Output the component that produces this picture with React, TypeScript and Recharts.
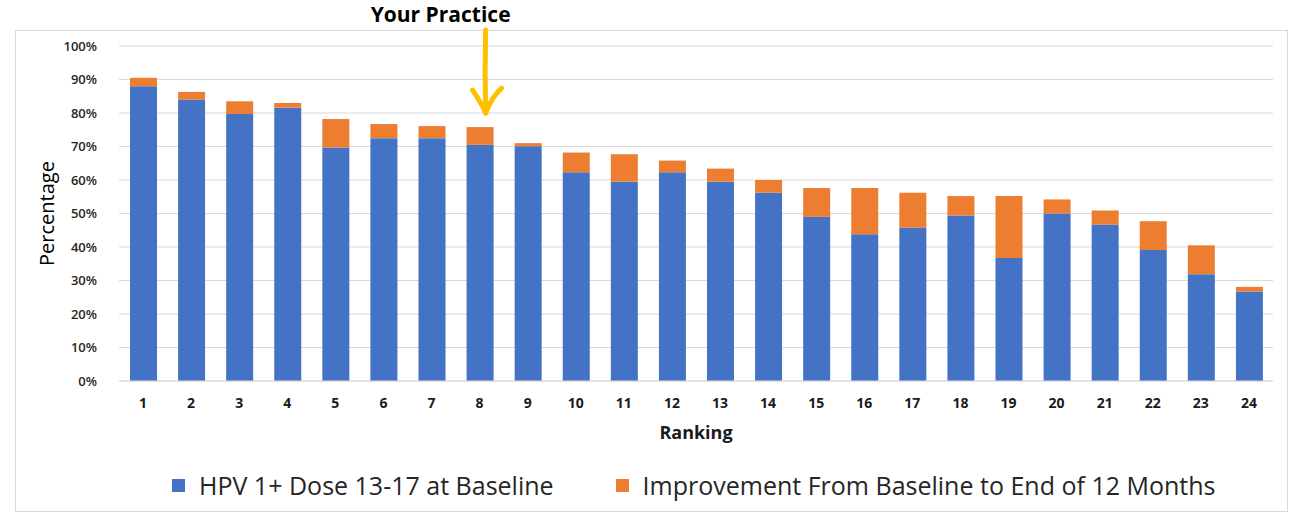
import React from "react";
import {
  BarChart,
  Bar,
  XAxis,
  YAxis,
  CartesianGrid,
  Legend,
  ReferenceDot,
} from "recharts";

// ---- data ----
const ranks: string[] = [
  "1", "2", "3", "4", "5", "6", "7", "8", "9", "10", "11", "12",
  "13", "14", "15", "16", "17", "18", "19", "20", "21", "22", "23", "24",
];
const baseline: number[] = [
  88, 84, 79.7, 81.6, 69.7, 72.5, 72.5, 70.5, 70.1, 62.3, 59.5, 62.3,
  59.5, 56.2, 49, 43.8, 45.8, 49.4, 36.7, 50, 46.7, 39.1, 31.9, 26.7,
];
const improvement: number[] = [
  2.5, 2.3, 3.8, 1.4, 8.5, 4.2, 3.6, 5.3, 0.9, 5.9, 8.2, 3.5,
  3.9, 3.8, 8.6, 13.8, 10.4, 5.8, 18.5, 4.2, 4.2, 8.6, 8.6, 1.4,
];
const yTicks: number[] = [0, 10, 20, 30, 40, 50, 60, 70, 80, 90, 100];

const seriesNames = {
  baseline: "HPV 1+ Dose 13-17 at Baseline",
  improvement: "Improvement From Baseline to End of 12 Months",
};
const annotationText = "Your Practice";
const practiceRank = "8";

const BLUE = "#4472C4";
const ORANGE = "#ED7D31";
const ARROW = "#FFC000";
const FONT = "'Open Sans', 'Noto Sans', sans-serif";

const data = ranks.map((r, i) => ({
  rank: r,
  baseline: baseline[i],
  improvement: improvement[i],
}));

const practiceIndex = ranks.indexOf(practiceRank);
const practiceTotal = baseline[practiceIndex] + improvement[practiceIndex];

const ArrowShape = (props: any) => {
  const { cx, cy } = props;
  if (cx == null || cy == null) return null;
  const sx = cx + 6;
  return (
    <g>
      <text
        x={cx - 39}
        y={cy - 105}
        textAnchor="middle"
        fontFamily={FONT}
        fontWeight={700}
        fontSize={21}
        fill="#000"
      >
        {annotationText}
      </text>
      <path
        d={`M ${sx} ${cy - 97} Q ${sx - 1} ${cy - 55} ${sx} ${cy - 14}`}
        stroke={ARROW}
        strokeWidth={5}
        fill="none"
        strokeLinecap="round"
      />
      <path
        d={`M ${cx - 7} ${cy - 37} Q ${sx - 3} ${cy - 22} ${sx} ${cy - 14} Q ${sx + 6} ${cy - 30} ${cx + 22} ${cy - 39}`}
        stroke={ARROW}
        strokeWidth={5}
        fill="none"
        strokeLinecap="round"
        strokeLinejoin="round"
      />
    </g>
  );
};

const renderLegend = (props: any) => {
  const payload = props.payload || [];
  return (
    <div style={{ display: "flex", alignItems: "center", paddingLeft: 172 }}>
      {payload.map((p: any, i: number) => (
        <div
          key={i}
          style={{
            display: "flex",
            alignItems: "center",
            marginRight: 62,
          }}
        >
          <span
            style={{
              display: "inline-block",
              width: 13,
              height: 13,
              background: p.color,
              marginRight: 14,
            }}
          />
          <span
            style={{
              fontFamily: FONT,
              fontSize: 25,
              lineHeight: "30px",
              color: "#262626",
              whiteSpace: "nowrap",
            }}
          >
            {p.value}
          </span>
        </div>
      ))}
    </div>
  );
};

export default function App() {
  return (
    <div
      style={{
        position: "absolute",
        left: 0,
        top: 0,
        width: 1293,
        height: 514,
        background: "#fff",
      }}
    >
      <div
        style={{
          position: "absolute",
          left: 15,
          top: 30,
          width: 1273,
          height: 482,
          border: "1px solid #d9d9d9",
          boxSizing: "border-box",
        }}
      />
      <div style={{ position: "absolute", left: 0, top: 0 }}>
        <BarChart
          width={1293}
          height={514}
          data={data}
          margin={{ top: 46, right: 20, bottom: 73, left: 0 }}
          barCategoryGap={0}
          style={{ overflow: "visible" }}
        >
          <CartesianGrid
            vertical={false}
            stroke="#d9d9d9"
            strokeWidth={1}
          />
          <XAxis
            dataKey="rank"
            height={60}
            tickLine={false}
            axisLine={{ stroke: "#d9d9d9" }}
            tickSize={0}
            tickMargin={17}
            interval={0}
            tick={{
              fontFamily: FONT,
              fontWeight: 700,
              fontSize: 14,
              fill: "#1a1a1a",
            }}
            label={{
              value: "Ranking",
              position: "insideBottom",
              offset: 2,
              style: {
                fontFamily: FONT,
                fontWeight: 700,
                fontSize: 18,
                fill: "#1a1a1a",
              },
            }}
          />
          <YAxis
            width={119}
            domain={[0, 100]}
            ticks={yTicks}
            tickFormatter={(v: number) => `${v}%`}
            tickLine={false}
            axisLine={false}
            tickSize={0}
            tickMargin={22}
            tick={{
              fontFamily: FONT,
              fontWeight: 600,
              fontSize: 13,
              fill: "#262626",
            }}
            label={{
              value: "Percentage",
              angle: -90,
              position: "insideLeft",
              offset: 47,
              style: {
                fontFamily: FONT,
                fontSize: 20,
                fill: "#000",
                textAnchor: "middle",
              },
            }}
          />
          <Legend
            layout="horizontal"
            verticalAlign="middle"
            align="center"
            content={renderLegend}
            wrapperStyle={{ top: 470, left: 0, width: 1293 }}
          />
          <Bar
            dataKey="baseline"
            name={seriesNames.baseline}
            stackId="a"
            fill={BLUE}
            barSize={27}
            isAnimationActive={false}
          />
          <Bar
            dataKey="improvement"
            name={seriesNames.improvement}
            stackId="a"
            fill={ORANGE}
            barSize={27}
            isAnimationActive={false}
          />
          <ReferenceDot
            x={practiceRank}
            y={practiceTotal}
            ifOverflow="visible"
            shape={ArrowShape}
          />
        </BarChart>
      </div>
    </div>
  );
}
